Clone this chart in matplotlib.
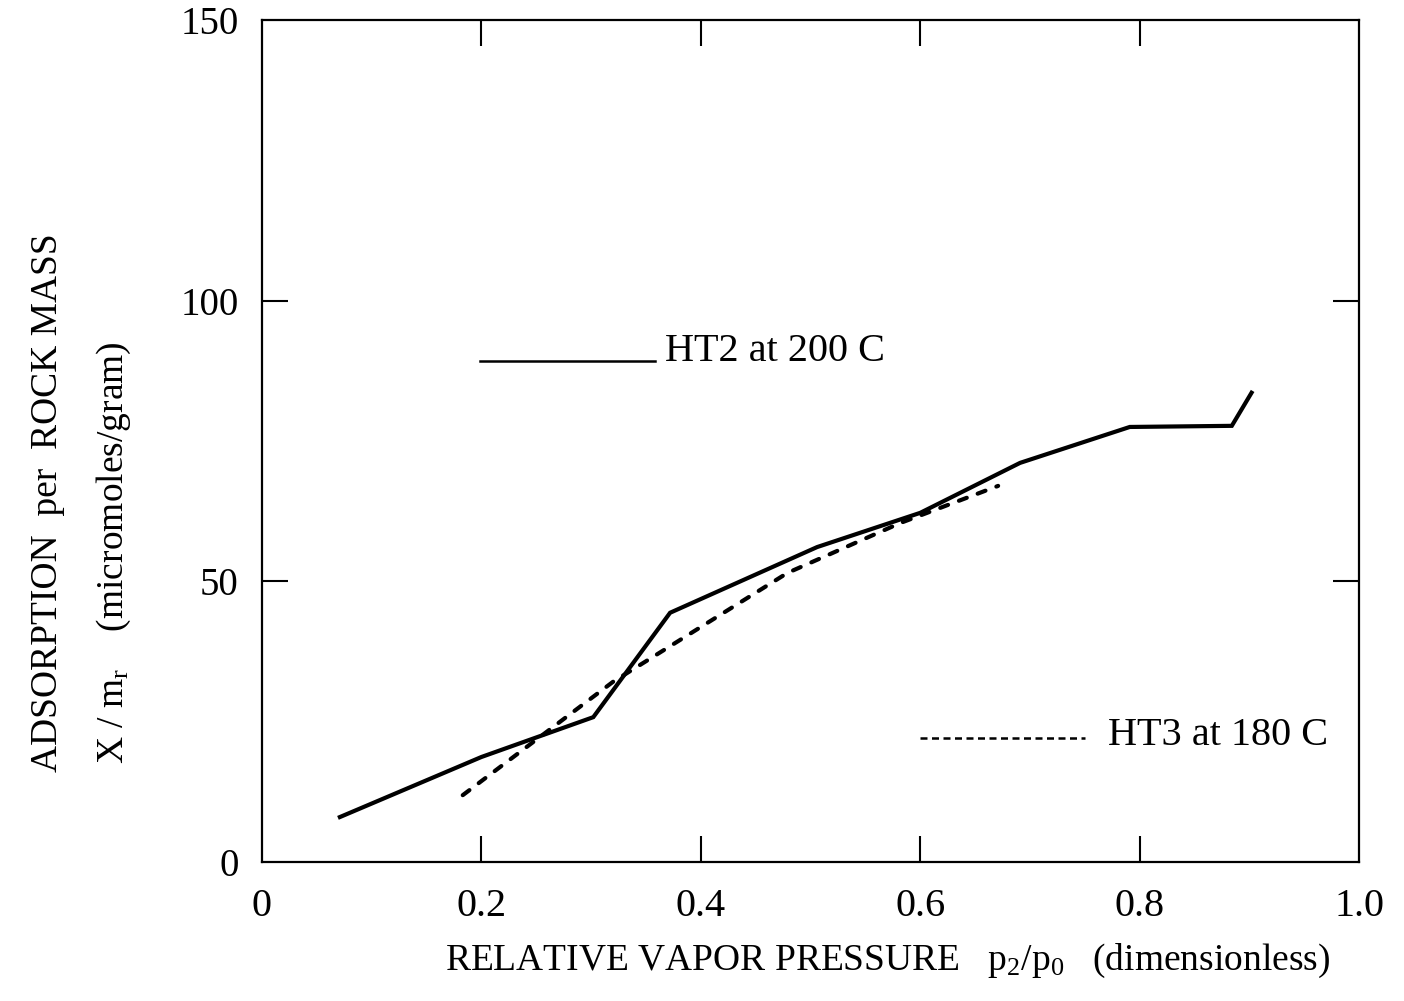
import numpy as np
import matplotlib
matplotlib.use('Agg')
import matplotlib.pyplot as plt
import matplotlib.ticker as ticker

plt.rcParams['font.family'] = ['Liberation Serif', 'DejaVu Serif']
plt.rcParams['mathtext.fontset'] = 'custom'
plt.rcParams['mathtext.rm'] = 'Liberation Serif'
plt.rcParams['mathtext.it'] = 'Liberation Serif'

# HT2 at 200 C (solid)
ht2_p = [0.071, 0.200, 0.302, 0.372, 0.506, 0.600, 0.691, 0.791, 0.884, 0.902]
ht2_x = [8.0, 18.7, 25.8, 44.4, 56.1, 62.2, 71.1, 77.5, 77.7, 83.6]

# HT3 at 180 C (dashed)
ht3_p = [0.183, 0.320, 0.479, 0.582, 0.671]
ht3_x = [11.9, 32.1, 51.5, 60.4, 67.0]

xticks = [0, 0.2, 0.4, 0.6, 0.8, 1.0]
xticklabels = ['0', '0.2', '0.4', '0.6', '0.8', '1.0']
yticks = [0, 50, 100, 150]

fig = plt.figure(figsize=(14.04, 10.01), dpi=100)
ax = fig.add_axes([0.1866, 0.1389, 0.9680 - 0.1866, 0.9800 - 0.1389])

ax.plot(ht2_p, ht2_x, c='k', lw=3.0, solid_joinstyle='miter')
ax.plot(ht3_p, ht3_x, c='k', lw=3.0, ls=(0, (2.0, 2.8)), dash_capstyle='round')

# in-plot key
ax.plot([0.199, 0.358], [89.3, 89.3], c='k', lw=1.8)
ax.text(0.367, 91.0, 'HT2 at 200 C', fontsize=29, va='center', ha='left')
ax.plot([0.600, 0.750], [22.1, 22.1], c='k', lw=1.8, ls=(0, (2.8, 1.8)))
ax.text(0.771, 22.6, 'HT3 at 180 C', fontsize=29, va='center', ha='left')

ax.set_xlim(0, 1.0)
ax.set_ylim(0, 150)
ax.set_xticks(xticks)
ax.set_xticklabels(xticklabels)
ax.set_yticks(yticks)

for s in ax.spines.values():
    s.set_linewidth(1.6)

ax.xaxis.set_tick_params(which='major', length=19, width=1.5, direction='in',
                         top=True, labelsize=29, pad=19)
ax.yaxis.set_tick_params(which='major', length=19, width=1.5, direction='in',
                         right=True, labelsize=28, pad=17)
# no tick marks drawn at the corners
for t in ax.xaxis.get_major_ticks()[::len(xticks) - 1]:
    t.tick1line.set_visible(False)
    t.tick2line.set_visible(False)
for t in ax.yaxis.get_major_ticks()[::len(yticks) - 1]:
    t.tick1line.set_visible(False)
    t.tick2line.set_visible(False)

fig.text(0.632, 0.040, r'RELATIVE VAPOR PRESSURE   $\mathrm{p}_{\mathrm{2}}/\mathrm{p}_{\mathrm{0}}$   (dimensionless)',
         fontsize=27, ha='center', va='center')
fig.text(0.034, 0.498, 'ADSORPTION  per  ROCK MASS', fontsize=27,
         rotation=90, ha='center', va='center')
fig.text(0.081, 0.448, r'X / m$_{\mathrm{r}}$    (micromoles/gram)', fontsize=27,
         rotation=90, ha='center', va='center')

fig.savefig('out.png', dpi=100)
plt.close()
